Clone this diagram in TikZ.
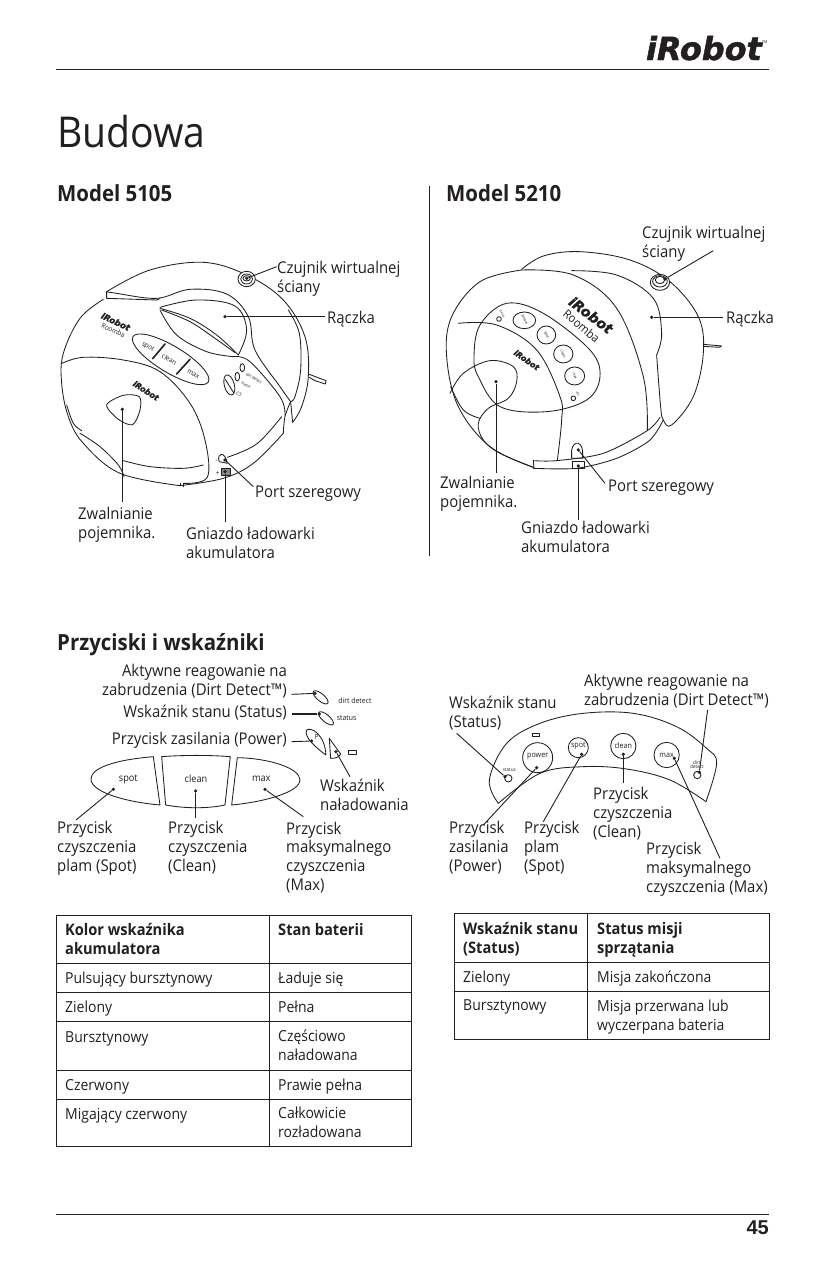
\documentclass[tikz,border=0pt]{standalone}
\usepackage{fontspec}
\setmainfont[FakeStretch=0.92]{Open Sans}
\newfontfamily\logofont{DejaVu Sans}
\newfontfamily\pagenumfont{Liberation Sans}
\definecolor{ink}{HTML}{231F20}
\tikzset{
  lbl/.style={anchor=base west,inner sep=0pt,align=left,text=ink,font=\fontsize{16.2bp}{18.8bp}\selectfont},
  lblr/.style={lbl,anchor=base east,align=right},
  cell/.style={lbl,font=\fontsize{15.2bp}{18.3bp}\selectfont},
  headcell/.style={lbl,font=\fontsize{15.9bp}{19bp}\selectfont\bfseries},
  head/.style={anchor=base west,inner sep=0pt,text=ink,font=\fontsize{22.2bp}{26bp}\selectfont\bfseries},
  ln/.style={draw=ink,line width=0.85bp,line join=round,line cap=round},
  lead/.style={draw=ink,line width=0.9bp},
  rule/.style={draw=ink,line width=0.8bp},
  dot/.style={circle,fill=ink,inner sep=0pt,minimum size=3.6bp},
  tiny/.style={inner sep=0pt,text=ink,font=\fontsize{#1}{#1}\selectfont},
  logo/.style={inner sep=0pt,text=ink,font=\logofont\fontsize{#1}{#1}\selectfont\bfseries\itshape\addfontfeature{FakeBold=1.5}},
  zoomA/.style={shift={(50,220)},x=0.3333bp,y=-0.3333bp},
  zoomB/.style={shift={(430,210)},x=0.3333bp,y=-0.3333bp},
  zoomC/.style={shift={(50,655)},x=0.3333bp,y=-0.3333bp},
  zoomD/.style={shift={(440,665)},x=0.3333bp,y=-0.3333bp},
}
\begin{document}
\begin{tikzpicture}[x=1bp,y=-1bp]
\useasboundingbox (0,0) rectangle (825,1275);
\fill[white] (0,0) rectangle (825,1275);

% page furniture
\coordinate (hl) at (56,69); \coordinate (hr) at (769,69);
\coordinate (fl) at (56,1214); \coordinate (fr) at (769,1214);
\coordinate (st) at (429,186); \coordinate (sb) at (429,556);
\draw[rule] (hl) -- (hr); \draw[rule] (fl) -- (fr); \draw[draw=ink,line width=0.5bp] (st) -- (sb);
\node[logo=32,anchor=base east] (brand) at (762,60) {iRobot};
\node[tiny=4,anchor=base west] (brandtm) at (762,43) {TM};
\node[anchor=base east,inner sep=0pt,text=ink,font=\pagenumfont\fontsize{20bp}{20bp}\selectfont\bfseries] (pg) at (769,1234) {45};
\node[anchor=base west,inner sep=0pt,text=ink,font=\fontsize{42.5bp}{44bp}\selectfont] (title) at (57,147) {Budowa};
\node[head] (h1) at (57,201) {Model 5105};
\node[head] (h2) at (446,201) {Model 5210};
\node[head] (h3) at (57,650) {Przyciski i wskaźniki};

% ---------- robot 5105 ----------
\begin{scope}[zoomA]
\draw[ln] plot[smooth,tension=.6] coordinates {(170,215)(300,150)(460,127)(590,165)(700,240)(765,350)(775,470)(755,560)(728,607)};
\draw[ln] plot[smooth,tension=.6] coordinates {(715,270)(748,340)(752,450)(735,530)(722,545)};
\draw[ln] (728,607) -- (722,545);
\draw[ln] plot[smooth,tension=.6] coordinates {(170,215)(200,220)(320,235)(420,208)(530,222)(595,290)(615,390)(690,500)(722,545)};
\draw[ln] (170,215) -- (170,235) -- (320,240);
\draw[ln] plot[smooth,tension=.6] coordinates {(160,238)(90,295)(40,400)(35,490)(55,590)(100,670)(210,760)(390,797)};
\draw[ln] plot[smooth,tension=.6] coordinates {(390,797)(520,775)(610,730)(700,640)};
\draw[ln] plot[smooth,tension=.6] coordinates {(532,712)(620,672)(695,590)};
\draw[ln] (390,790) -- (390,797) (400,790) -- (400,800);
\draw[ln] (320,240) -- (330,236);
\draw[ln] plot[smooth,tension=.6] coordinates {(550,410)(600,425)(690,530)(705,585)};
\draw[ln] plot[smooth,tension=.6] coordinates {(700,640)(705,590)(722,545)};
\draw[ln] plot[smooth,tension=.6] coordinates {(330,262)(440,240)(555,258)(590,330)(565,405)};
\draw[ln] plot[smooth,tension=.6] coordinates {(330,265)(420,295)(500,345)(565,405)};
\draw[ln] plot[smooth,tension=.6] coordinates {(335,270)(420,305)(495,355)(555,398)};
\draw[ln] plot[smooth,tension=.6] coordinates {(330,270)(380,345)(470,395)(550,410)};
\draw[ln] plot[smooth,tension=.6] coordinates {(36,430)(100,412)(220,420)(330,455)(420,550)(465,660)(472,772)(400,790)};
\draw[ln] plot[smooth,tension=.6] coordinates {(220,722)(300,740)(400,745)(460,735)};
\draw[ln] plot[smooth,tension=.6] coordinates {(90,640)(150,680)(205,735)(222,770)};
\draw[ln] plot[smooth,tension=.6] coordinates {(50,555)(70,610)(95,632)};
\draw[ln] plot[smooth cycle,tension=.5] coordinates {(170,555)(220,526)(268,530)(270,570)(248,614)(205,598)};
\draw[ln,rotate around={-31:(362,418)}] (362,418) ellipse [x radius=132,y radius=40];
\draw[ln,line width=1.6bp] (308,416) -- (345,372) (380,462) -- (420,418);
\node[tiny=7,rotate=-31] (aspot) at (294,382) {spot};
\node[tiny=7,rotate=-31] (aclean) at (358,418) {clean};
\node[tiny=7,rotate=-31] (amax) at (430,462) {max};
\draw[ln] (577,443) ellipse [x radius=7,y radius=12];
\draw[ln] (562,470) ellipse [x radius=7,y radius=13];
\draw[ln,rotate around={15:(538,495)}] (538,495) ellipse [x radius=15,y radius=31];
\draw[ln] (526,478) -- (552,520);
\node[tiny=4,rotate=-30] (adirt) at (612,475) {dirt detect};
\node[tiny=4,rotate=-30] (astatus) at (588,495) {status};
\node[tiny=5,rotate=-30] (ac3) at (567,523) {C3};
\node[logo=8.5,rotate=-25] (alogo1) at (197,305) {iRobot};
\node[tiny=7,rotate=-25] (aroomba) at (190,331) {Roomba};
\node[logo=8,rotate=-33] (alogo2) at (288,512) {iRobot};
\draw[ln] (508,725) .. controls (498,700) and (525,690) .. (532,730) -- cycle;
\draw[ln,fill=ink!55] (515,746) rectangle (540,766);
\node[tiny=7] (aplus) at (503,760) {+};
\node[tiny=7] (aminus) at (500,724) {-};
\draw[ln] (775,462) -- (828,482) -- (826,492) -- (795,482) (778,472) -- (795,482);
\node[dot] (a1) at (590,175) {}; \coordinate (a1e) at (680,140);
\node[dot] (a2) at (525,290) {}; \coordinate (a2e) at (825,290);
\node[dot] (a3) at (525,720) {}; \coordinate (a3e) at (610,800);
\node[dot] (a4) at (525,755) {}; \coordinate (a4e) at (525,905);
\node[dot] (a5) at (217,568) {}; \coordinate (a5e) at (217,845);
\draw[ln,fill=white] (590,177) ellipse [x radius=26,y radius=23];
\draw[ln] (590,177) ellipse [x radius=18,y radius=15];
\draw[ln] (590,175) ellipse [x radius=11,y radius=8];
\node[dot] (a1b) at (590,175) {};
\draw[lead] (a1) -- (a1e);
\draw[lead] (a2) -- (a2e);
\draw[lead] (a3) -- (a3e);
\draw[lead] (a4) -- (a4e);
\draw[lead] (a5) -- (a5e);
\end{scope}
\node[lbl] (la1) at (277,292) {Czujnik wirtualnej\\ściany};
\node[lbl] (la2) at (327,323) {Rączka};
\node[lbl] (la3) at (255,497) {Port szeregowy};
\node[lbl] (la4) at (78,538) {Zwalnianie\\pojemnika.};
\node[lbl] (la5) at (186,558) {Gniazdo ładowarki\\akumulatora};

% ---------- robot 5210 ----------
\begin{scope}[zoomB]
\draw[ln] plot[smooth,tension=.6] coordinates {(275,178)(340,138)(450,125)(600,150)(720,215)(805,320)(820,430)(790,560)(725,645)(700,630)(692,590)(680,435)};
\draw[ln] plot[smooth,tension=.6] coordinates {(425,182)(560,195)(670,265)(695,370)(680,435)};
\draw[ln] plot[smooth,tension=.6] coordinates {(275,180)(430,195)(560,295)(640,500)(652,662)};
\draw[ln] plot[smooth,tension=.6] coordinates {(275,180)(150,215)(65,320)(50,440)(85,590)(180,710)(310,772)};
\draw[ln] plot[smooth,tension=.5] coordinates {(310,775)(440,775)(560,745)(658,692)(700,630)};
\draw[ln] plot[smooth,tension=.5] coordinates {(310,752)(380,752)(520,730)(652,662)(690,622)};
\draw[ln] (310,752) -- (312,775);
\draw[ln] plot[smooth cycle,tension=.6] coordinates {(132,440)(150,345)(230,280)(340,310)(480,420)(510,500)(470,570)(350,605)(210,590)(145,500)};
\draw[ln] plot[smooth,tension=.6] coordinates {(85,340)(200,345)(320,420)(390,560)(395,630)(382,752)};
\draw[ln] plot[smooth,tension=.6] coordinates {(60,550)(100,490)(180,452)(250,470)(260,515)(235,565)(175,595)(145,640)(160,690)(210,730)(310,772)};
\draw[ln] plot[smooth,tension=.6] coordinates {(62,530)(100,600)(150,625)};
\draw[ln] (283,331) ellipse [x radius=34,y radius=25];
\draw[ln] (349,375) ellipse [x radius=28,y radius=27];
\draw[ln] (400,432) ellipse [x radius=29,y radius=27];
\draw[ln] (434,498) ellipse [x radius=30,y radius=27];
\node[tiny=3.8,rotate=-65] (bt1) at (283,331) {power};
\node[tiny=3.8,rotate=-65] (bt2) at (349,375) {spot};
\node[tiny=3.8,rotate=-65] (bt3) at (400,432) {clean};
\node[tiny=3.8,rotate=-65] (bt4) at (434,498) {max};
\draw[ln] (207,327) circle (7);
\node[tiny=3.2,rotate=-65] (bt5) at (217,312) {status};
\draw[ln] (430,565) circle (7);
\node[tiny=3.2,rotate=-65] (bt6) at (444,552) {dirt};
\node[logo=14,rotate=-37] (blogo1) at (483,315) {iRobot};
\node[tiny=12,rotate=-40] (broomba) at (455,348) {Roomba};
\node[logo=8,rotate=-35] (blogo2) at (290,450) {iRobot};
\draw[ln] (425,735) .. controls (420,695) and (455,685) .. (458,725) -- (458,745) -- (425,745) -- cycle;
\draw[ln] (428,755) rectangle (463,776);
\draw[ln] (820,403) -- (875,408) -- (868,412) -- (820,409);
\node[dot] (b1) at (705,207) {}; \coordinate (b1e) at (850,122);
\node[dot] (b2) at (665,322) {}; \coordinate (b2e) at (880,322);
\node[dot] (b3) at (445,720) {}; \coordinate (b3e) at (525,820);
\node[dot] (b4) at (445,768) {}; \coordinate (b4e) at (445,930);
\node[dot] (b5) at (198,515) {}; \coordinate (b5e) at (198,790);
\draw[ln,fill=white] (690,217) ellipse [x radius=29,y radius=24];
\draw[ln] (690,214) ellipse [x radius=22,y radius=17];
\draw[ln] (690,210) ellipse [x radius=14,y radius=11];
\node[dot] (b1b) at (705,207) {};
\draw[lead] (b1) -- (b1e);
\draw[lead] (b2) -- (b2e);
\draw[lead] (b3) -- (b3e);
\draw[lead] (b4) -- (b4e);
\draw[lead] (b5) -- (b5e);
\end{scope}
\node[lbl] (lb1) at (642,257) {Czujnik wirtualnej\\ściany};
\node[lbl] (lb2) at (726,323) {Rączka};
\node[lbl] (lb3) at (608,491) {Port szeregowy};
\node[lbl] (lb4) at (440,507) {Zwalnianie\\pojemnika.};
\node[lbl] (lb5) at (521,552) {Gniazdo ładowarki\\akumulatora};

% ---------- left panel ----------
\begin{scope}[zoomC]
\draw[ln] (310,305) .. controls (190,315) and (123,340) .. (123,372) .. controls (123,410) and (220,440) .. (330,450) -- cycle;
\draw[ln] (335,305) .. controls (400,300) and (480,300) .. (541,305) -- (525,450) .. controls (470,462) and (400,460) .. (347,450) -- cycle;
\draw[ln] (562,308) .. controls (660,310) and (750,340) .. (750,375) .. controls (750,410) and (650,440) .. (545,450) -- cycle;
\node[tiny=10] (cspot) at (235,373) {spot};
\node[tiny=10] (cclean) at (438,372) {clean};
\node[tiny=10] (cmax) at (634,372) {max};
\draw[ln,rotate around={-40:(812,127)}] (812,127) ellipse [x radius=28,y radius=11];
\draw[ln,rotate around={-40:(828,190)}] (828,190) ellipse [x radius=28,y radius=11];
\node[tiny=7.5] (cdirt) at (915,136) {dirt detect};
\node[tiny=7.5] (cstatus) at (890,190) {status};
\draw[ln] (770,225) .. controls (785,215) and (825,240) .. (828,300) .. controls (800,280) and (760,245) .. (770,225);
\draw[ln] (838,250) -- (872,297) .. controls (868,305) and (855,312) .. (842,310) -- cycle;
\draw[ln] (895,285) rectangle (920,298);
\node[tiny=7] (cp) at (800,245) {P};
\node[dot] (c1) at (795,115) {}; \coordinate (c1e) at (725,118);
\node[dot] (c2) at (808,177) {}; \coordinate (c2e) at (725,177);
\node[dot] (c3) at (785,258) {}; \coordinate (c3e) at (725,260);
\node[dot] (c4) at (858,290) {}; \coordinate (c4e) at (900,365);
\node[dot] (c5) at (190,403) {}; \coordinate (c5e) at (78,495);
\node[dot] (c6) at (437,408) {}; \coordinate (c6e) at (437,490);
\node[dot] (c7) at (645,403) {}; \coordinate (c7e) at (760,485);
\draw[lead] (c1) -- (c1e);
\draw[lead,line width=1.4bp] (c2) -- (c2e);
\draw[lead] (c3) -- (c3e);
\draw[lead] (c4) -- (c4e);
\draw[lead] (c5) -- (c5e);
\draw[lead] (c6) -- (c6e);
\draw[lead] (c7) -- (c7e);
\end{scope}
\node[lblr] (lc1) at (287,695) {Aktywne reagowanie na\\zabrudzenia (Dirt Detect™)};
\node[lblr] (lc2) at (287,717) {Wskaźnik stanu (Status)};
\node[lblr] (lc3) at (287,744) {Przycisk zasilania (Power)};
\node[lbl] (lc4) at (320,810) {Wskaźnik\\naładowania};
\node[lbl] (lc5) at (57,871.5) {Przycisk\\czyszczenia\\plam (Spot)};
\node[lbl] (lc6) at (168,871.5) {Przycisk\\czyszczenia\\(Clean)};
\node[lbl] (lc7) at (286,890.5) {Przycisk\\maksymalnego\\czyszczenia\\(Max)};

% ---------- right panel ----------
\begin{scope}[zoomD]
\draw[ln] plot[smooth,tension=.6] coordinates {(175,415)(148,345)(200,235)(300,175)(430,145)(580,145)(710,185)(800,250)(830,295)(798,410)};
\draw[ln] plot[smooth,tension=.6] coordinates {(798,410)(690,345)(560,312)(430,305)(300,325)(175,415)};
\draw[ln] (293,278) circle (45);
\draw[ln] (415,248) circle (30);
\draw[ln] (550,243) circle (38);
\draw[ln] (680,270) circle (38);
\draw[ln] (205,340) circle (11);
\draw[ln] (772,330) circle (11);
\draw[ln] (278,206) rectangle (298,214);
\node[tiny=7.8] (dpower) at (293,275) {power};
\node[tiny=7.8] (dspot) at (415,243) {spot};
\node[tiny=7.8] (dclean) at (550,243) {clean};
\node[tiny=7.8] (dmax) at (680,270) {max};
\node[tiny=5] (dstatus) at (208,316) {status};
\node[tiny=5,align=center] (ddirt) at (771,298) {dirt\\[-1bp]detect};
\node[dot] (d1) at (195,335) {}; \coordinate (d1e) at (50,205);
\node[dot] (d2) at (290,308) {}; \coordinate (d2e) at (130,480);
\node[dot] (d3) at (425,268) {}; \coordinate (d3e) at (310,470);
\node[dot] (d4) at (550,268) {}; \coordinate (d4e) at (550,355);
\node[dot] (d5) at (703,280) {}; \coordinate (d5e) at (840,580);
\node[dot] (d6) at (778,322) {}; \coordinate (d6e) at (803,135);
\draw[lead] (d1) -- (d1e);
\draw[lead] (d2) -- (d2e);
\draw[lead] (d3) -- (d3e);
\draw[lead] (d4) -- (d4e);
\draw[lead] (d5) -- (d5e);
\draw[lead] (d6) -- (d6e);
\end{scope}
\node[lbl] (ld1) at (449,727) {Wskaźnik stanu\\(Status)};
\node[lbl] (ld2) at (584,705) {Aktywne reagowanie na\\zabrudzenia (Dirt Detect™)};
\node[lbl] (ld3) at (449,871) {Przycisk\\zasilania\\(Power)};
\node[lbl] (ld4) at (524,871) {Przycisk\\plam\\(Spot)};
\node[lbl] (ld5) at (593,837) {Przycisk\\czyszczenia\\(Clean)};
\node[lbl] (ld6) at (646,892) {Przycisk\\maksymalnego\\czyszczenia (Max)};

% ---------- left table ----------
\draw[rule] (56,915) rectangle (411,1146);
\draw[rule] (269,915) -- (269,1146);
\foreach \yy in {963,992,1021,1070,1099} \draw[rule] (56,\yy) -- (411,\yy);
\node[headcell] (t1) at (65,954) {Kolor wskaźnika\\akumulatora};
\node[headcell] (t2) at (278,935) {Stan baterii};
\node[cell] (t3) at (65,983) {Pulsujący bursztynowy};
\node[cell] (t4) at (278,983) {Ładuje się};
\node[cell] (t5) at (65,1012) {Zielony};
\node[cell] (t6) at (278,1012) {Pełna};
\node[cell] (t7) at (65,1042) {Bursztynowy};
\node[cell] (t8) at (278,1060) {Częściowo\\naładowana};
\node[cell] (t9) at (65,1090) {Czerwony};
\node[cell] (t10) at (278,1090) {Prawie pełna};
\node[cell] (t11) at (65,1119) {Migający czerwony};
\node[cell] (t12) at (278,1137) {Całkowicie\\rozładowana};

% ---------- right table ----------
\draw[rule] (454,913) rectangle (769,1039);
\draw[rule] (587,913) -- (587,1039);
\foreach \yy in {962,991} \draw[rule] (454,\yy) -- (769,\yy);
\node[headcell] (u1) at (463,953) {Wskaźnik stanu\\(Status)};
\node[headcell] (u2) at (597,953) {Status misji\\sprzątania};
\node[cell] (u3) at (463,982) {Zielony};
\node[cell] (u4) at (597,982) {Misja zakończona};
\node[cell] (u5) at (463,1010) {Bursztynowy};
\node[cell] (u6) at (597,1030) {Misja przerwana lub\\wyczerpana bateria};
\end{tikzpicture}
\end{document}
